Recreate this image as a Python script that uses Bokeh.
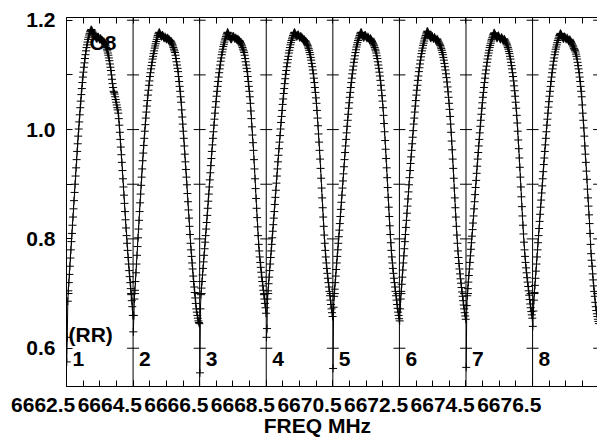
import numpy as np
from bokeh.plotting import figure
from bokeh.models import (Range1d, FixedTicker, LinearAxis, Label, LabelSet,
                          ColumnDataSource, Span, CustomJSTickFormatter)
from bokeh.core.properties import value
from bokeh.embed import file_html
from bokeh.resources import INLINE

FONT = "Liberation Sans"

# ---------------- data ----------------
if_start = [6662.5, 6664.5, 6666.5, 6668.5, 6670.5, 6672.5, 6674.5, 6676.5]
if_width = 2.0
if_names = ["1", "2", "3", "4", "5", "6", "7", "8"]
x_tick_values = [6662.5, 6664.5, 6666.5, 6668.5, 6670.5, 6672.5, 6674.5, 6676.5]
y_major = [0.6, 0.8, 1.0, 1.2]
y_minor = [0.7, 0.9, 1.1]
stokes_label = "(RR)"
source_label = "C8"
x_title = "FREQ MHz"

# 128 channels per IF (amplitude)
amp_if1 = [0.575, 0.62, 0.686, 0.705, 0.72, 0.735, 0.75, 0.765, 0.78, 0.795, 0.81, 0.825, 0.84, 0.855, 0.87, 0.885,
           0.90, 0.915, 0.93, 0.945, 0.96, 0.974, 0.988, 1.001, 1.014, 1.027, 1.04, 1.052, 1.064, 1.075, 1.086, 1.096,
           1.105, 1.114, 1.122, 1.13, 1.137, 1.144, 1.15, 1.155, 1.16, 1.165, 1.169, 1.173, 1.176, 1.179, 1.181, 1.183,
           1.182, 1.18, 1.178, 1.176, 1.175, 1.173, 1.171, 1.17, 1.168, 1.167, 1.166, 1.168, 1.17, 1.169, 1.167, 1.165,
           1.166, 1.167, 1.165, 1.163, 1.164, 1.162, 1.16, 1.161, 1.159, 1.157, 1.155, 1.153, 1.15, 1.147, 1.144, 1.14,
           1.136, 1.131, 1.126, 1.12, 1.114, 1.108, 1.10, 1.092, 1.084, 1.077, 1.07, 1.068, 1.065, 1.06, 1.055, 1.05,
           1.045, 1.04, 1.036, 1.03, 1.02, 1.008, 0.995, 0.982, 0.968, 0.954, 0.94, 0.925, 0.91, 0.895, 0.88, 0.865,
           0.85, 0.835, 0.82, 0.806, 0.792, 0.779, 0.766, 0.754, 0.742, 0.731, 0.72, 0.709, 0.698, 0.687, 0.676, 0.66]
amp_if2 = [0.63, 0.66, 0.69, 0.706, 0.722, 0.738, 0.754, 0.77, 0.786, 0.802, 0.818, 0.834, 0.85, 0.866, 0.882, 0.898,
           0.913, 0.928, 0.943, 0.957, 0.971, 0.984, 0.997, 1.009, 1.021, 1.032, 1.043, 1.053, 1.063, 1.072, 1.081, 1.089,
           1.097, 1.104, 1.111, 1.117, 1.123, 1.129, 1.134, 1.139, 1.144, 1.149, 1.153, 1.157, 1.161, 1.165, 1.169, 1.172,
           1.175, 1.177, 1.178, 1.176, 1.174, 1.172, 1.17, 1.171, 1.173, 1.171, 1.169, 1.167, 1.168, 1.17, 1.168, 1.166,
           1.165, 1.167, 1.168, 1.166, 1.164, 1.165, 1.163, 1.161, 1.162, 1.16, 1.158, 1.156, 1.153, 1.15, 1.147, 1.144,
           1.141, 1.136, 1.13, 1.124, 1.118, 1.112, 1.106, 1.097, 1.088, 1.079, 1.07, 1.06, 1.05, 1.036, 1.023, 1.01,
           0.997, 0.984, 0.97, 0.955, 0.941, 0.927, 0.913, 0.899, 0.883, 0.868, 0.853, 0.838, 0.823, 0.808, 0.792, 0.78,
           0.768, 0.756, 0.745, 0.732, 0.722, 0.712, 0.702, 0.692, 0.682, 0.672, 0.666, 0.66, 0.655, 0.65, 0.647, 0.645]
amp_if3 = [0.555, 0.672, 0.698, 0.71, 0.722, 0.734, 0.746, 0.758, 0.77, 0.782, 0.794, 0.806, 0.818, 0.83, 0.843, 0.856,
           0.869, 0.882, 0.895, 0.908, 0.921, 0.934, 0.947, 0.96, 0.972, 0.984, 0.996, 1.008, 1.019, 1.03, 1.041, 1.051,
           1.061, 1.07, 1.079, 1.088, 1.096, 1.104, 1.111, 1.118, 1.125, 1.131, 1.137, 1.142, 1.147, 1.152, 1.156, 1.16,
           1.164, 1.167, 1.17, 1.173, 1.176, 1.178, 1.177, 1.175, 1.172, 1.17, 1.168, 1.166, 1.165, 1.166, 1.168, 1.17,
           1.171, 1.17, 1.168, 1.166, 1.167, 1.168, 1.166, 1.164, 1.165, 1.166, 1.164, 1.162, 1.163, 1.161, 1.159, 1.157,
           1.155, 1.153, 1.15, 1.147, 1.144, 1.141, 1.136, 1.13, 1.124, 1.118, 1.112, 1.106, 1.097, 1.088, 1.079, 1.07,
           1.06, 1.048, 1.034, 1.02, 1.005, 0.99, 0.976, 0.962, 0.945, 0.928, 0.91, 0.892, 0.874, 0.856, 0.839, 0.822,
           0.806, 0.79, 0.778, 0.767, 0.757, 0.748, 0.739, 0.73, 0.722, 0.714, 0.706, 0.698, 0.69, 0.682, 0.674, 0.664]
amp_if4 = [0.62, 0.636, 0.69, 0.705, 0.718, 0.73, 0.742, 0.754, 0.766, 0.778, 0.79, 0.802, 0.814, 0.826, 0.838, 0.85,
           0.863, 0.876, 0.889, 0.902, 0.915, 0.928, 0.941, 0.953, 0.965, 0.977, 0.989, 1.001, 1.013, 1.024, 1.035, 1.046,
           1.056, 1.066, 1.075, 1.084, 1.093, 1.101, 1.108, 1.115, 1.122, 1.128, 1.134, 1.14, 1.145, 1.15, 1.155, 1.159,
           1.163, 1.166, 1.169, 1.172, 1.175, 1.177, 1.178, 1.176, 1.174, 1.172, 1.17, 1.171, 1.173, 1.174, 1.172, 1.17,
           1.168, 1.17, 1.171, 1.169, 1.167, 1.168, 1.166, 1.164, 1.165, 1.163, 1.161, 1.162, 1.16, 1.158, 1.156, 1.154,
           1.151, 1.148, 1.145, 1.141, 1.137, 1.132, 1.127, 1.121, 1.115, 1.109, 1.102, 1.094, 1.086, 1.077, 1.068, 1.058,
           1.048, 1.035, 1.021, 1.007, 0.992, 0.977, 0.962, 0.946, 0.929, 0.911, 0.893, 0.875, 0.857, 0.84, 0.823, 0.807,
           0.792, 0.779, 0.767, 0.756, 0.746, 0.737, 0.728, 0.72, 0.712, 0.704, 0.696, 0.688, 0.68, 0.672, 0.665, 0.658]
amp_if5 = [0.563, 0.675, 0.695, 0.708, 0.72, 0.732, 0.744, 0.756, 0.768, 0.78, 0.792, 0.804, 0.816, 0.828, 0.841, 0.854,
           0.867, 0.88, 0.893, 0.906, 0.919, 0.932, 0.945, 0.958, 0.97, 0.982, 0.994, 1.006, 1.017, 1.028, 1.039, 1.049,
           1.059, 1.068, 1.077, 1.086, 1.094, 1.102, 1.109, 1.116, 1.123, 1.129, 1.135, 1.141, 1.146, 1.151, 1.155, 1.159,
           1.163, 1.166, 1.169, 1.172, 1.175, 1.177, 1.178, 1.177, 1.174, 1.171, 1.169, 1.168, 1.17, 1.172, 1.173, 1.171,
           1.169, 1.167, 1.168, 1.17, 1.168, 1.166, 1.164, 1.165, 1.167, 1.165, 1.163, 1.161, 1.159, 1.157, 1.155, 1.153,
           1.15, 1.147, 1.144, 1.14, 1.135, 1.13, 1.124, 1.118, 1.112, 1.105, 1.098, 1.09, 1.081, 1.072, 1.062, 1.052,
           1.04, 1.026, 1.011, 0.996, 0.98, 0.964, 0.947, 0.93, 0.912, 0.894, 0.876, 0.858, 0.841, 0.824, 0.808, 0.793,
           0.779, 0.767, 0.756, 0.746, 0.737, 0.728, 0.72, 0.712, 0.704, 0.696, 0.688, 0.68, 0.673, 0.666, 0.66, 0.654]
amp_if6 = [0.65, 0.672, 0.69, 0.704, 0.717, 0.73, 0.743, 0.756, 0.769, 0.782, 0.795, 0.808, 0.821, 0.834, 0.847, 0.86,
           0.873, 0.886, 0.899, 0.912, 0.925, 0.938, 0.95, 0.962, 0.974, 0.986, 0.998, 1.01, 1.021, 1.032, 1.043, 1.053,
           1.063, 1.072, 1.081, 1.09, 1.098, 1.106, 1.113, 1.12, 1.127, 1.133, 1.139, 1.144, 1.149, 1.154, 1.158, 1.162,
           1.166, 1.169, 1.172, 1.175, 1.178, 1.18, 1.179, 1.177, 1.175, 1.172, 1.17, 1.168, 1.167, 1.169, 1.171, 1.17,
           1.168, 1.166, 1.167, 1.169, 1.167, 1.165, 1.163, 1.164, 1.166, 1.164, 1.162, 1.16, 1.158, 1.156, 1.154, 1.151,
           1.148, 1.145, 1.141, 1.137, 1.132, 1.127, 1.121, 1.115, 1.109, 1.102, 1.095, 1.087, 1.078, 1.069, 1.059, 1.048,
           1.037, 1.024, 1.01, 0.995, 0.979, 0.963, 0.946, 0.929, 0.911, 0.893, 0.875, 0.857, 0.84, 0.823, 0.807, 0.792,
           0.778, 0.766, 0.755, 0.745, 0.736, 0.727, 0.719, 0.711, 0.703, 0.695, 0.687, 0.679, 0.672, 0.665, 0.659, 0.653]
amp_if7 = [0.565, 0.678, 0.696, 0.709, 0.721, 0.733, 0.745, 0.757, 0.769, 0.781, 0.793, 0.805, 0.817, 0.829, 0.842, 0.855,
           0.868, 0.881, 0.894, 0.907, 0.92, 0.933, 0.946, 0.958, 0.97, 0.982, 0.994, 1.006, 1.017, 1.028, 1.039, 1.049,
           1.059, 1.068, 1.077, 1.086, 1.094, 1.102, 1.109, 1.116, 1.123, 1.129, 1.135, 1.14, 1.145, 1.15, 1.154, 1.158,
           1.162, 1.165, 1.168, 1.171, 1.174, 1.176, 1.177, 1.175, 1.173, 1.171, 1.169, 1.167, 1.168, 1.17, 1.172, 1.17,
           1.168, 1.166, 1.165, 1.167, 1.169, 1.167, 1.165, 1.163, 1.164, 1.166, 1.164, 1.162, 1.16, 1.158, 1.156, 1.153,
           1.15, 1.147, 1.143, 1.139, 1.134, 1.129, 1.123, 1.117, 1.111, 1.104, 1.097, 1.089, 1.08, 1.071, 1.061, 1.05,
           1.039, 1.026, 1.012, 0.997, 0.981, 0.965, 0.948, 0.931, 0.913, 0.895, 0.877, 0.859, 0.842, 0.825, 0.809, 0.794,
           0.78, 0.768, 0.757, 0.747, 0.738, 0.729, 0.721, 0.713, 0.705, 0.697, 0.689, 0.681, 0.674, 0.667, 0.661, 0.655]
amp_if8 = [0.64, 0.668, 0.688, 0.702, 0.715, 0.728, 0.741, 0.754, 0.767, 0.78, 0.793, 0.806, 0.819, 0.832, 0.845, 0.858,
           0.871, 0.884, 0.897, 0.91, 0.923, 0.936, 0.948, 0.96, 0.972, 0.984, 0.996, 1.008, 1.019, 1.03, 1.041, 1.051,
           1.061, 1.07, 1.079, 1.088, 1.096, 1.104, 1.111, 1.118, 1.125, 1.131, 1.137, 1.142, 1.147, 1.151, 1.155, 1.159,
           1.163, 1.166, 1.169, 1.172, 1.174, 1.176, 1.175, 1.173, 1.171, 1.169, 1.167, 1.166, 1.168, 1.17, 1.169, 1.167,
           1.165, 1.166, 1.168, 1.166, 1.164, 1.162, 1.163, 1.165, 1.163, 1.161, 1.159, 1.157, 1.155, 1.153, 1.151, 1.148,
           1.147, 1.145, 1.142, 1.138, 1.134, 1.129, 1.123, 1.117, 1.111, 1.104, 1.096, 1.088, 1.079, 1.07, 1.06, 1.045,
           1.03, 1.017, 1.003, 0.988, 0.97, 0.955, 0.94, 0.924, 0.909, 0.891, 0.875, 0.86, 0.844, 0.828, 0.81, 0.79,
           0.773, 0.761, 0.75, 0.736, 0.725, 0.714, 0.704, 0.695, 0.684, 0.676, 0.669, 0.663, 0.658, 0.653, 0.649, 0.645]
amps = [amp_if1, amp_if2, amp_if3, amp_if4, amp_if5, amp_if6, amp_if7, amp_if8]

# ---------------- figure ----------------
X0, X1 = 6662.5, 6678.45
Y0, Y1 = 0.53, 1.205

p = figure(width=597, height=439, x_range=Range1d(X0, X1), y_range=Range1d(Y0, Y1),
           output_backend="svg", toolbar_location=None,
           x_axis_location=None, y_axis_location=None,
           min_border_left=66, min_border_right=0, min_border_top=17, min_border_bottom=53)
p.grid.visible = False
p.outline_line_color = None
p.background_fill_color = "white"
p.border_fill_color = "white"

# left axis
yax = LinearAxis(ticker=FixedTicker(ticks=y_major, minor_ticks=y_minor),
                 formatter=CustomJSTickFormatter(code="return tick.toFixed(1);"),
                 major_tick_in=6, major_tick_out=0, minor_tick_in=6, minor_tick_out=0,
                 major_label_standoff=11, axis_line_color="black",
                 major_tick_line_color="black", minor_tick_line_color="black",
                 major_label_text_font=FONT, major_label_text_font_style="bold",
                 major_label_text_font_size="21px", major_label_text_color="black")
p.add_layout(yax, "left")

# small frequency ticks every 0.5 MHz
x_small_ticks = list(np.arange(X0, 6678.5 + 0.01, 0.5))

# top axis: ticks only
tax = LinearAxis(ticker=FixedTicker(ticks=[], minor_ticks=x_small_ticks),
                 major_tick_in=0, major_tick_out=0, minor_tick_in=6, minor_tick_out=0,
                 major_label_standoff=0, axis_line_color="black",
                 minor_tick_line_color="black")
p.add_layout(tax, "above")

# bottom axis: small ticks + labels; trailing no-break spaces move text left of the tick
nb = "\u00a0"
bax = LinearAxis(ticker=FixedTicker(ticks=x_tick_values, minor_ticks=x_small_ticks),
                 formatter=CustomJSTickFormatter(code="return tick.toFixed(1) + '\\u00a0'.repeat(8);"),
                 major_tick_in=6, major_tick_out=0, minor_tick_in=6, minor_tick_out=0,
                 major_label_standoff=6, axis_line_color="black",
                 major_tick_line_color="black", minor_tick_line_color="black",
                 major_label_text_font=FONT, major_label_text_font_style="bold",
                 major_label_text_font_size="21px", major_label_text_color="black",
                 axis_label=x_title + nb * 5, axis_label_standoff=-5,
                 axis_label_text_font=FONT, axis_label_text_font_style="bold",
                 axis_label_text_font_size="21px", axis_label_text_color="black")
p.add_layout(bax, "below")

# IF dividers with cross ticks
dividers = if_start[1:] + [if_start[-1] + if_width]
for d in if_start[1:]:
    p.add_layout(Span(location=d, dimension="height", line_color="black", line_width=1))
half = 0.18
y_all = sorted(y_major + y_minor)
cx0, cx1, cy = [], [], []
for d in dividers:
    for yv in y_all:
        cx0.append(d - half)
        cx1.append(d + half)
        cy.append(yv)
p.segment(x0=cx0, y0=cy, x1=cx1, y1=cy, line_color="black", line_width=1)

# bandpass data
for start, amp in zip(if_start, amps):
    n = len(amp)
    xs = start + (np.arange(n) + 0.5) * if_width / n
    p.line(xs, amp, line_color="black", line_width=1)
    p.scatter(xs, amp, marker="cross", size=8, line_color="black", line_width=1)

# text inside the frame
p.add_layout(LabelSet(source=ColumnDataSource(dict(x=if_start, t=if_names)),
                      x="x", y=0.568, text="t", x_offset=6,
                      text_font=value(FONT), text_font_style="bold", text_font_size="21px",
                      text_color="black", text_baseline="alphabetic"))
p.add_layout(Label(x=if_start[0], y=0.61, x_offset=2, y_offset=8, text=stokes_label,
                   text_font=FONT, text_font_style="bold", text_font_size="21px",
                   text_color="black", text_baseline="alphabetic"))
p.add_layout(Label(x=if_start[0], y=Y1, x_offset=23, y_offset=-25, text=source_label,
                   text_font=FONT, text_font_style="bold", text_font_size="21px",
                   text_color="black", text_baseline="alphabetic"))

open("out.html", "w").write(file_html(p, INLINE))
